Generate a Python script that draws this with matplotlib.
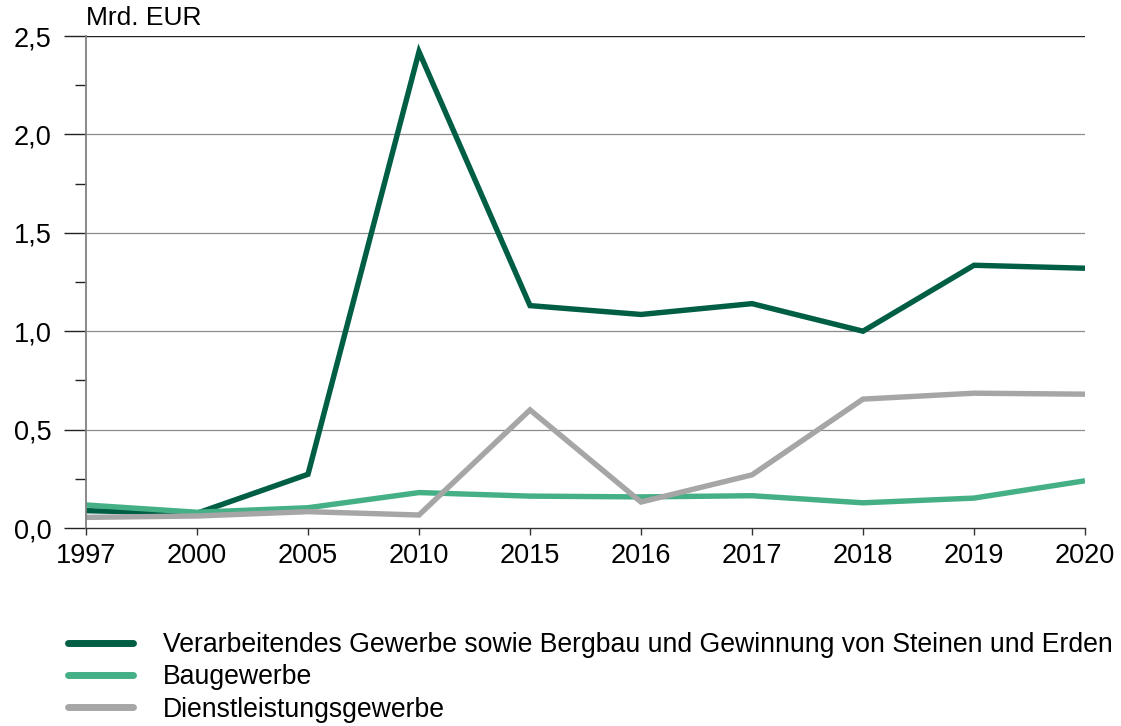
import matplotlib
matplotlib.use("Agg")
import matplotlib.pyplot as plt
from matplotlib.ticker import FuncFormatter, MultipleLocator

plt.rcParams['font.family'] = ['Liberation Sans', 'DejaVu Sans']

# data (Mrd. EUR)
years = ["1997", "2000", "2005", "2010", "2015", "2016", "2017", "2018", "2019", "2020"]
verarbeitendes = [0.088, 0.075, 0.273, 2.42, 1.13, 1.085, 1.14, 1.0, 1.335, 1.32]
baugewerbe = [0.117, 0.08, 0.103, 0.18, 0.162, 0.158, 0.164, 0.128, 0.152, 0.24]
dienstleistung = [0.054, 0.061, 0.083, 0.066, 0.60, 0.132, 0.27, 0.655, 0.685, 0.68]

labels = [
    "Verarbeitendes Gewerbe sowie Bergbau und Gewinnung von Steinen und Erden",
    "Baugewerbe",
    "Dienstleistungsgewerbe",
]
colors = ["#005E45", "#45B085", "#A6A6A6"]

fig = plt.figure(figsize=(11.21, 7.26), dpi=100)
ax = fig.add_axes([86 / 1121, 1 - 528 / 726, 999 / 1121, 492 / 726])

x = list(range(len(years)))
for series, lab, col in zip([verarbeitendes, baugewerbe, dienstleistung], labels, colors):
    ax.plot(x, series, color=col, lw=3.9, label=lab, solid_joinstyle='miter',
            solid_capstyle='butt')

ax.set_xlim(0, len(years) - 1)
ax.set_ylim(0, 2.5)
ax.set_xticks(x)
ax.set_xticklabels(years)
ax.yaxis.set_major_locator(MultipleLocator(0.5))
ax.yaxis.set_minor_locator(MultipleLocator(0.25))
ax.yaxis.set_major_formatter(FuncFormatter(lambda v, p: f"{v:.1f}".replace(".", ",")))

# grid
for v in [0.5, 1.0, 1.5, 2.0]:
    ax.axhline(v, color="#8C8C8C", lw=0.9, zorder=0)
ax.axhline(2.5, color="#222222", lw=1.0, zorder=0)

for s in ["top", "right"]:
    ax.spines[s].set_visible(False)
ax.spines["left"].set_color("#808080")
ax.spines["left"].set_linewidth(1.3)
ax.spines["bottom"].set_color("#333333")
ax.spines["bottom"].set_linewidth(1.0)

ax.tick_params(axis="y", which="major", length=16, width=1.0, color="#222222",
               labelsize=19.5, pad=9)
ax.tick_params(axis="y", which="minor", length=8, width=1.0, color="#222222")
ax.tick_params(axis="x", length=5, width=1.0, color="#333333", labelsize=19.5, pad=6)

fig.text(86 / 1121, 1 - 18 / 726, "Mrd. EUR", fontsize=19, ha="left", va="center")

leg = fig.legend(loc="upper left", bbox_to_anchor=(68 / 1121, 1 - 632 / 726),
                 frameon=False, fontsize=19.2, handlelength=2.45, handletextpad=1.1,
                 labelspacing=0.24, borderpad=0, borderaxespad=0)
for h in leg.get_lines():
    h.set_linewidth(5)
    h.set_solid_capstyle('round')

fig.savefig("out.png", dpi=100)
